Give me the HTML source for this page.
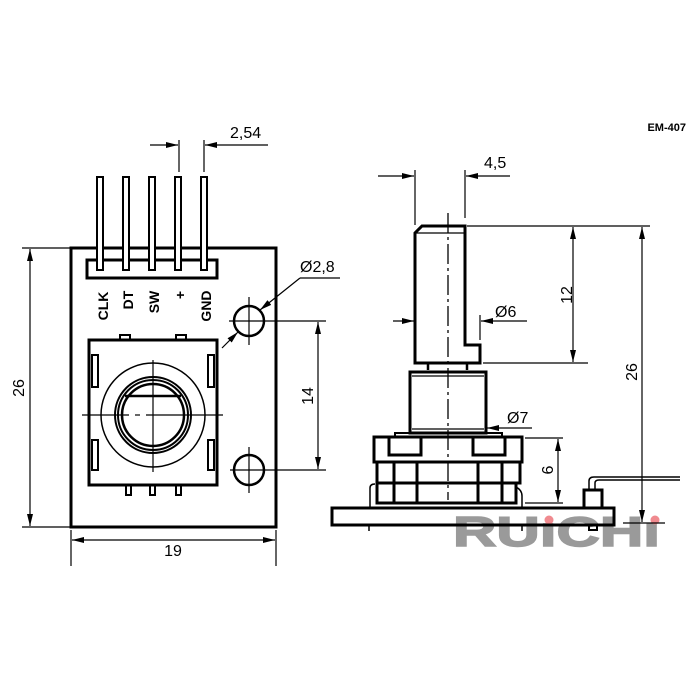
<!DOCTYPE html>
<html><head><style>html,body{margin:0;padding:0;background:#fff}svg{display:block}</style></head><body>
<svg width="700" height="700" viewBox="0 0 700 700" xmlns="http://www.w3.org/2000/svg" font-family="Liberation Sans, sans-serif">
<defs>
<marker id="a" markerWidth="12" markerHeight="8" refX="12" refY="4" orient="auto" markerUnits="userSpaceOnUse"><path d="M0,1 L12,4 L0,7 z" fill="#000"/></marker>
</defs>
<rect width="700" height="700" fill="#fff"/>
<text x="686" y="131" font-size="11" font-weight="bold" text-anchor="end">EM-407</text>

<g fill="#9a9a9a" stroke="#9a9a9a" stroke-width="1.5"><text x="453" y="546" font-size="42" font-weight="bold" textLength="207" lengthAdjust="spacingAndGlyphs">RUıCHı</text></g>
<circle cx="549" cy="520" r="4.5" fill="#f08a8f"/><circle cx="655" cy="520" r="4.5" fill="#f08a8f"/>

<g fill="none" stroke="#000">
<rect x="71" y="248" width="205" height="279" stroke-width="3"/>
<rect x="87" y="260" width="130" height="18" stroke-width="3"/>
<g stroke-width="2" fill="#fff">
<rect x="97" y="177" width="6" height="93"/><rect x="123" y="177" width="6" height="93"/><rect x="149" y="177" width="6" height="93"/><rect x="175" y="177" width="6" height="93"/><rect x="201" y="177" width="6" height="93"/>
</g>
<rect x="89" y="340" width="128" height="145" stroke-width="3"/>
<g stroke-width="2">
<rect x="120" y="335" width="10" height="5"/><rect x="176" y="335" width="10" height="5"/>
<rect x="126" y="485" width="5" height="10"/><rect x="150" y="485" width="5" height="10"/><rect x="176" y="485" width="5" height="10"/>
<rect x="92" y="355" width="6" height="32"/><rect x="92" y="440" width="6" height="30"/>
<rect x="208" y="355" width="6" height="32"/><rect x="208" y="440" width="6" height="30"/>
</g>
<circle cx="153" cy="415" r="52" stroke-width="1.5"/>
<circle cx="153" cy="415" r="38" stroke-width="2"/>
<circle cx="153" cy="415" r="35" stroke-width="2"/>
<circle cx="153" cy="415" r="31" stroke-width="2.5"/>
<line x1="125" y1="396" x2="181" y2="396" stroke-width="2.5"/>
<line x1="82" y1="415" x2="129" y2="415" stroke-width="1.2"/>
<line x1="135" y1="415" x2="140" y2="415" stroke-width="1.2"/>
<line x1="146" y1="415" x2="223" y2="415" stroke-width="1.2"/>
<line x1="153" y1="360" x2="153" y2="472" stroke-width="1.2"/>
<circle cx="249" cy="321" r="15" stroke-width="2.5"/>
<circle cx="249" cy="470" r="15" stroke-width="2.5"/>
<g stroke-width="1.2">
<line x1="229" y1="321" x2="326" y2="321"/><line x1="249" y1="297" x2="249" y2="345"/>
<line x1="230" y1="470" x2="326" y2="470"/><line x1="249" y1="447" x2="249" y2="493"/>
<line x1="318" y1="395" x2="318" y2="469" marker-end="url(#a)"/>
<line x1="318" y1="395" x2="318" y2="322" marker-end="url(#a)"/>
<line x1="22" y1="248" x2="70" y2="248"/><line x1="22" y1="527" x2="70" y2="527"/>
<line x1="30" y1="390" x2="30" y2="249" marker-end="url(#a)"/><line x1="30" y1="390" x2="30" y2="526" marker-end="url(#a)"/>
<line x1="71" y1="530" x2="71" y2="566"/><line x1="276" y1="530" x2="276" y2="566"/>
<line x1="170" y1="540" x2="72" y2="540" marker-end="url(#a)"/><line x1="170" y1="540" x2="275" y2="540" marker-end="url(#a)"/>
<line x1="179" y1="140" x2="179" y2="172"/><line x1="204" y1="140" x2="204" y2="172"/>
<line x1="150" y1="145" x2="178" y2="145" marker-end="url(#a)"/><line x1="268" y1="145" x2="205" y2="145" marker-end="url(#a)"/>
<line x1="222" y1="348" x2="238" y2="332" marker-end="url(#a)"/>
<line x1="300" y1="278" x2="260" y2="310" marker-end="url(#a)"/>
<line x1="300" y1="278" x2="340" y2="278"/>
</g>

<path d="M415,363 V233 L422,226 H465 V345 H480 V363 Z" stroke-width="3"/>
<line x1="415" y1="233" x2="465" y2="233" stroke-width="1.2"/>
<path d="M428,363 V370 M467,363 V370" stroke-width="2.5"/>
<rect x="410" y="372" width="76" height="61" stroke-width="3"/>
<line x1="412" y1="376" x2="484" y2="376" stroke-width="1.2"/>
<line x1="412" y1="429" x2="484" y2="429" stroke-width="1.2"/>
<rect x="395" y="433" width="107" height="4" stroke-width="2"/>
<rect x="374" y="437" width="148" height="25" stroke-width="3"/>
<rect x="389" y="437" width="32" height="18" stroke-width="3"/>
<rect x="473" y="437" width="32" height="18" stroke-width="3"/>
<rect x="377" y="462" width="143" height="21" stroke-width="3"/>
<rect x="377" y="483" width="139" height="20" stroke-width="3"/>
<path d="M394,462 V503 M417,462 V503 M478,462 V503 M502,462 V503" stroke-width="3"/>
<path d="M370,508 V488 Q370,484 375,484" stroke-width="1.5"/>
<path d="M522,508 V496 Q522,490 516,487" stroke-width="1.5"/>
<rect x="332" y="508" width="282" height="17" stroke-width="3"/>
<path d="M369,525 V531 M522,525 V531" stroke-width="1.5"/>
<rect x="584" y="490" width="18" height="18" stroke-width="3"/>
<path d="M589,490 V481 Q589,477 594,477 H680" stroke-width="1.5"/>
<path d="M595,490 V483 Q595,480 599,480 H680" stroke-width="1.5"/>
<rect x="589" y="525" width="8" height="5" stroke-width="2"/>
<line x1="448" y1="213" x2="448" y2="500" stroke-width="1.3" stroke-dasharray="20,4,3,4"/>
<g stroke-width="1.2">
<line x1="415" y1="170" x2="415" y2="225"/><line x1="465" y1="170" x2="465" y2="218"/>
<line x1="378" y1="176" x2="414" y2="176" marker-end="url(#a)"/><line x1="510" y1="176" x2="466" y2="176" marker-end="url(#a)"/>
<line x1="467" y1="226" x2="650" y2="226"/><line x1="483" y1="363" x2="588" y2="363"/>
<line x1="573" y1="295" x2="573" y2="227" marker-end="url(#a)"/><line x1="573" y1="295" x2="573" y2="362" marker-end="url(#a)"/>
<line x1="642" y1="380" x2="642" y2="227" marker-end="url(#a)"/><line x1="642" y1="380" x2="642" y2="522" marker-end="url(#a)"/>
<line x1="623" y1="523" x2="665" y2="523"/>
<line x1="393" y1="321" x2="414" y2="321" marker-end="url(#a)"/><line x1="527" y1="321" x2="481" y2="321" marker-end="url(#a)"/>
<line x1="480" y1="315" x2="480" y2="340"/>
<line x1="532" y1="428" x2="487" y2="428" marker-end="url(#a)"/>
<line x1="525" y1="438" x2="563" y2="438"/><line x1="525" y1="503" x2="563" y2="503"/>
<line x1="558" y1="470" x2="558" y2="439" marker-end="url(#a)"/><line x1="558" y1="470" x2="558" y2="502" marker-end="url(#a)"/>
</g>
</g>

<g font-size="16" fill="#000">
<text x="230" y="138">2,54</text>
<text x="300" y="272">Ø2,8</text>
<text x="173" y="556" text-anchor="middle">19</text>
<text transform="translate(24,388) rotate(-90)" text-anchor="middle">26</text>
<text transform="translate(313,396) rotate(-90)" text-anchor="middle">14</text>
<text x="484" y="168">4,5</text>
<text x="495" y="317">Ø6</text>
<text x="507" y="423">Ø7</text>
<text transform="translate(572,295) rotate(-90)" text-anchor="middle">12</text>
<text transform="translate(637,372) rotate(-90)" text-anchor="middle">26</text>
<text transform="translate(553,470) rotate(-90)" text-anchor="middle">6</text>
</g>
<g font-size="14" font-weight="bold" fill="#000">
<text transform="translate(108,306) rotate(-90)" text-anchor="middle">CLK</text>
<text transform="translate(133,300) rotate(-90)" text-anchor="middle">DT</text>
<text transform="translate(159,302) rotate(-90)" text-anchor="middle">SW</text>
<text transform="translate(185,295) rotate(-90)" text-anchor="middle">+</text>
<text transform="translate(211,306) rotate(-90)" text-anchor="middle">GND</text>
</g>
</svg>
</body></html>
